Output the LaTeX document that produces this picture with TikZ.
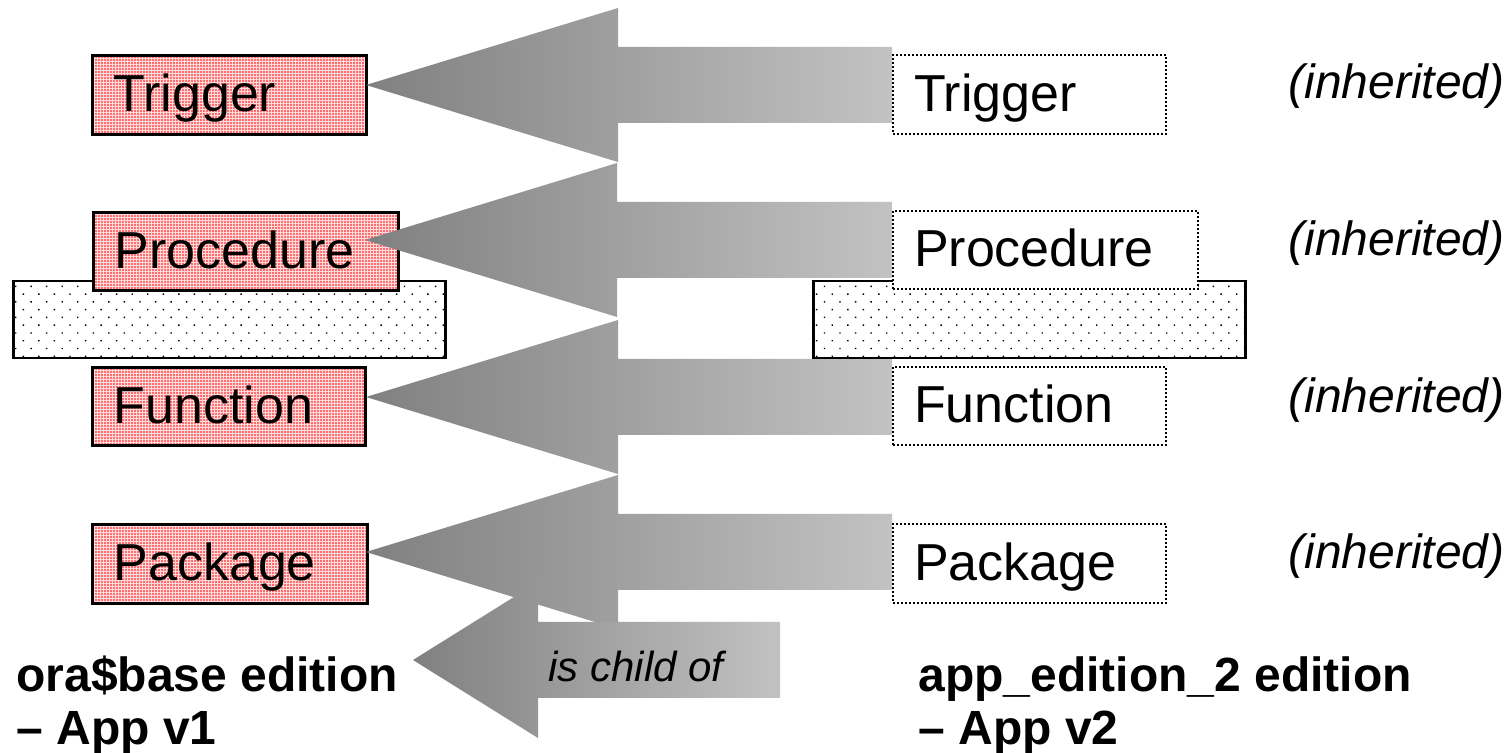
\documentclass[tikz,border=0pt]{standalone}
\usepackage{fontspec}
\setmainfont{Liberation Sans}
\usetikzlibrary{calc,patterns.meta}
\pgfdeclarelayer{paper}
\pgfdeclarelayer{back}
\pgfdeclarelayer{mid}
\pgfsetlayers{paper,back,mid,main}
\definecolor{arrowdark}{RGB}{128,128,128}
\definecolor{arrowlight}{RGB}{194,194,194}
\definecolor{pinkbase}{RGB}{255,218,218}
\tikzset{
  objbox/.style={anchor=north west, minimum height=39.5pt, inner xsep=10.5pt, inner ysep=0pt,
    align=left, text height=19pt, text depth=2pt, font=\fontsize{26pt}{30pt}\selectfont},
  basebox/.style={objbox, draw=black, line width=1.5pt, preaction={fill=pinkbase},
    pattern={Dots[distance=1.5pt,radius=0.45pt]}, pattern color=red},
  editbox/.style={objbox, draw=black, line width=1pt, dash pattern=on 1pt off 1pt, fill=white},
  layerbox/.style={anchor=north west, draw=black, line width=1.25pt, preaction={fill=white},
    pattern={Dots[distance=5.5pt,angle=45,radius=0.5pt]}, pattern color=black,
    inner sep=0pt, minimum width=216pt, minimum height=38.5pt},
  arrowshade/.style={left color=arrowdark, right color=arrowlight, draw=none},
  inherit/.style={anchor=east, inner sep=0pt, font=\fontsize{24pt}{28pt}\selectfont\itshape},
  edition/.style={anchor=base west, align=left, inner sep=0pt,
    font=\fontsize{24pt}{26.5pt}\selectfont\bfseries},
  relation/.style={anchor=base west, inner sep=0pt, font=\fontsize{21pt}{25pt}\selectfont\itshape},
}
% block arrow: tip, shaft end, head length, head half-height, shaft half-height
\newcommand\blockarrow[5]{%
  \shade[arrowshade] (#1) -- ($(#1)+(#3,-#4)$) -- ($(#1)+(#3,-#5)$) -- ($(#2)+(0,-#5)$)
    -- ($(#2)+(0,#5)$) -- ($(#1)+(#3,#5)$) -- ($(#1)+(#3,#4)$) -- cycle;}
\begin{document}
\begin{tikzpicture}[x=0.5pt,y=-0.5pt]
  \begin{pgfonlayer}{paper}
    \fill[white] (0,0) rectangle (1512,753);
  \end{pgfonlayer}
  \useasboundingbox (0,0) rectangle (1512,753);

  % base edition objects
  \begin{pgfonlayer}{back}
    \node[layerbox] (lw) at (12,280) {};
    \node[basebox, text width=116pt] (lt) at (91,54) {Trigger};
    \node[basebox, text width=131.5pt, minimum height=39pt] (lp) at (92,211) {Procedure};
    \node[basebox, text width=115.5pt, minimum height=39pt] (lf) at (91,366) {Function};
    \node[basebox, text width=116.5pt] (lk) at (91,523) {Package};
  \end{pgfonlayer}

  % child edition objects
  \node[layerbox] (rw) at (812,280) {};
  \node[editbox, text width=115.5pt] (rt) at (892,54) {Trigger};
  \node[editbox, text width=131.5pt, minimum height=39pt] (rp) at (892,210) {Procedure};
  \node[editbox, text width=115.5pt, minimum height=39pt] (rf) at (892,366) {Function};
  \node[editbox, text width=115.5pt] (rk) at (892,523) {Package};

  % inheritance arrows
  \coordinate (t1) at (366,85);
  \coordinate (t2) at (365,240);
  \coordinate (t3) at (366,397);
  \coordinate (t4) at (366,552);
  \coordinate (c1) at (413,660);
  \coordinate (c2) at (780,660);
  \begin{pgfonlayer}{mid}
    \blockarrow{t1}{t1 -| rt.west}{252}{77}{38}
    \blockarrow{t2}{t2 -| rp.west}{252}{77}{38}
    \blockarrow{t3}{t3 -| rf.west}{252}{77}{38}
    \blockarrow{t4}{t4 -| rk.west}{252}{77}{38}
    \blockarrow{c1}{c2}{125}{78}{38}
  \end{pgfonlayer}

  \node[relation] (rel) at (548,682) {is child of};

  \node[inherit] (i1) at (1505,86) {(inherited)};
  \node[inherit] (i2) at (1505,243) {(inherited)};
  \node[inherit] (i3) at (1505,400) {(inherited)};
  \node[inherit] (i4) at (1505,556) {(inherited)};

  % multi-line labels are anchored on the baseline of their last line
  \node[edition] (e1) at (16,745) {ora\$base edition\\– App v1};
  \node[edition] (e2) at (918,745) {app\_edition\_2 edition\\– App v2};
\end{tikzpicture}
\end{document}
